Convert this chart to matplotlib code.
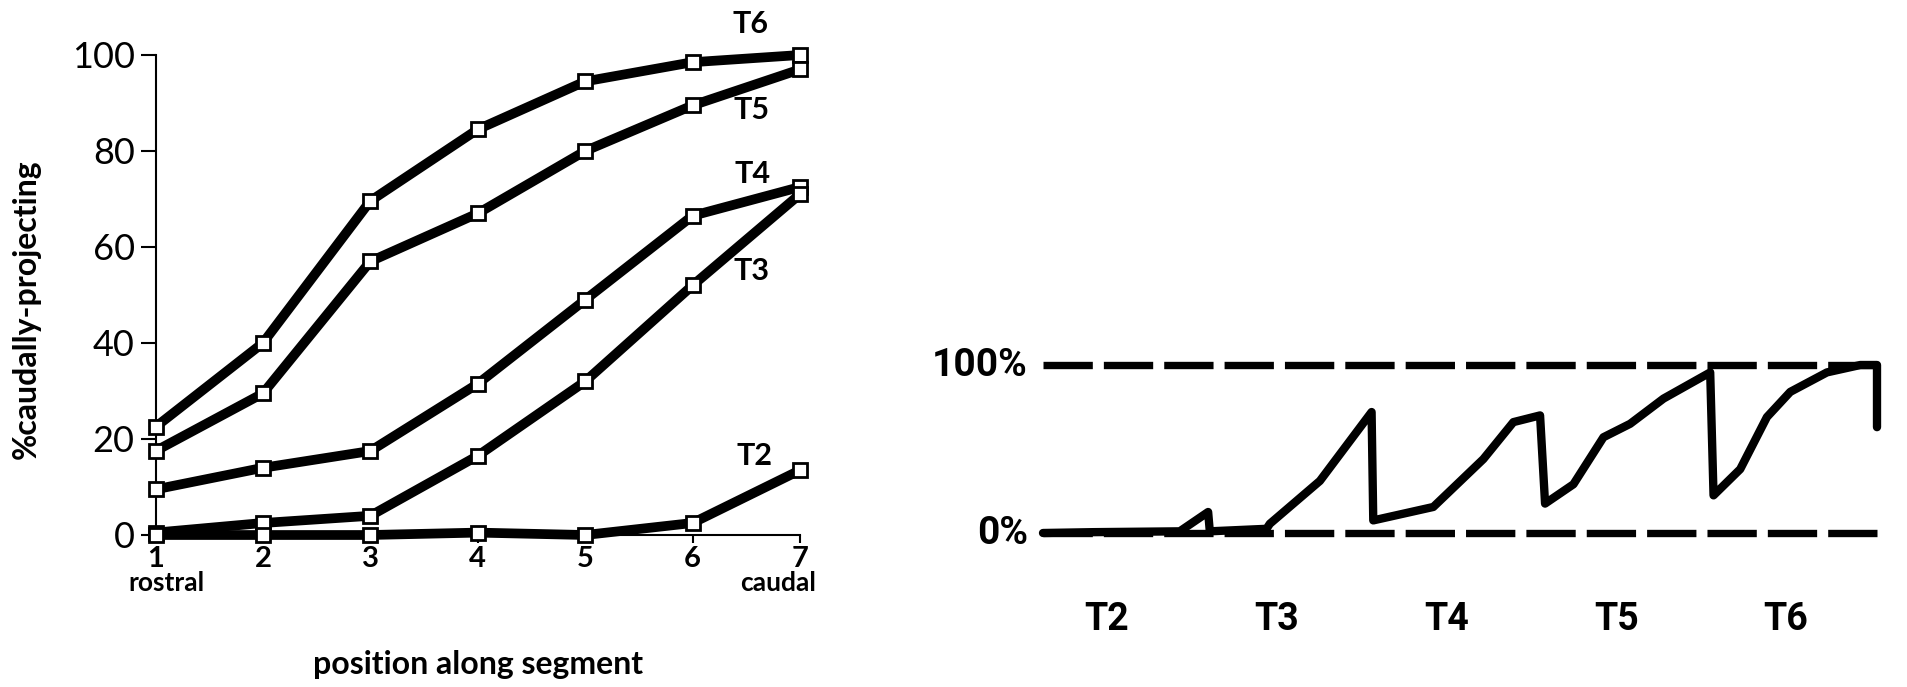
import matplotlib
matplotlib.use('Agg')
from matplotlib import pyplot as plt

# Left panel: % caudally-projecting vs position along segment
positions = [1, 2, 3, 4, 5, 6, 7]
t6 = [22.5, 40, 69.6, 84.5, 94.5, 98.5, 100]
t5 = [17.5, 29.5, 57, 67, 80, 89.5, 97]
t4 = [9.5, 14, 17.5, 31.5, 49, 66.5, 72.5]
t3 = [0.5, 2.5, 4, 16.5, 32, 52, 71]
t2 = [0, 0, 0, 0.5, 0, 2.5, 13.5]
series_names = ['T6', 'T5', 'T4', 'T3', 'T2']
label_x = [6.54, 6.55, 6.56, 6.55, 6.58]
label_y = [106.5, 88.5, 75.3, 55.1, 16.5]

# Right panel: sawtooth summary across segments T2..T6
saw_u = [0, 0.30, 0.82, 0.99, 1.0, 1.34, 1.36, 1.66, 1.97, 1.98, 2.34, 2.44,
         2.64, 2.82, 2.98, 3.01, 3.18, 3.36, 3.52, 3.72, 4.0, 4.02, 4.18,
         4.34, 4.48, 4.70, 4.90, 5.0, 5.0]
saw_pct = [0, 0.5, 1, 12.5, 1, 2.5, 5.5, 31, 72, 7.5, 15.5, 25,
           44, 66, 70, 17.5, 29, 57, 65, 80, 95.6, 22.4, 38,
           69, 84, 95.6, 100, 100, 63]
seg_names = ['T2', 'T3', 'T4', 'T5', 'T6']
seg_label_u = [0.38, 1.40, 2.42, 3.44, 4.45]

W, H = 1908, 687
fig = plt.figure(figsize=(W / 100, H / 100), dpi=100)

left_font = ['Lato', 'DejaVu Sans']
right_font = ['Roboto', 'DejaVu Sans']

# ---- left panel
ax = fig.add_axes([155.5 / W, 1 - 535 / H, (800 - 155.5) / W, 480 / H])
all_series = [t6, t5, t4, t3, t2]
for vals in all_series:
    ax.plot(positions, vals, color='black', lw=7, solid_joinstyle='miter',
            clip_on=False, zorder=2)
for vals in all_series:
    ax.plot(positions, vals, ls='none', marker='s', ms=10, mfc='white',
            mec='black', mew=2, clip_on=False, zorder=3)
for name, lx, ly in zip(series_names, label_x, label_y):
    ax.text(lx, ly, name, ha='center', va='center', fontsize=22,
            fontweight='bold', family=left_font)

ax.set_xlim(1, 7)
ax.set_ylim(0, 100)
ax.spines['top'].set_visible(False)
ax.spines['right'].set_visible(False)
for s in ['left', 'bottom']:
    ax.spines[s].set_linewidth(1.5)
ax.set_yticks([0, 20, 40, 60, 80, 100])
ax.set_xticks(positions)
ax.tick_params(axis='y', length=11, width=1.5, pad=4, labelsize=26)
ax.tick_params(axis='x', length=6, width=1.5, pad=2, labelsize=21)
for lab in ax.get_yticklabels():
    lab.set_family(left_font)
for lab in ax.get_xticklabels():
    lab.set_family(left_font)
    lab.set_fontweight('bold')

xt = ax.get_xaxis_transform()
ax.text(1.1, -0.1, 'rostral', transform=xt, ha='center', va='center',
        fontsize=19, fontweight='bold', family=left_font)
ax.text(6.8, -0.1, 'caudal', transform=xt, ha='center', va='center',
        fontsize=19, fontweight='bold', family=left_font)
ax.text(4.0, -0.27, 'position along segment', transform=xt, ha='center',
        va='center', fontsize=23, fontweight='bold', family=left_font)
ax.text(-0.2, 0.47, '%caudally-projecting', transform=ax.transAxes,
        rotation=90, ha='center', va='center', fontsize=23,
        fontweight='bold', family=left_font)

# ---- right panel
ax2 = fig.add_axes([1043 / W, 1 - 533 / H, (1877 - 1043) / W, (533 - 365) / H])
ax2.set_xlim(0, 5)
ax2.set_ylim(0, 100)
ax2.axis('off')
for level in [100, 0]:
    ax2.plot([0, 5], [level, level], color='black', lw=5.3,
             dashes=(6.7, 1.5), clip_on=False)
ax2.plot(saw_u, saw_pct, color='black', lw=6, solid_joinstyle='round',
         solid_capstyle='round', clip_on=False)
ax2.text(-0.09, 100, '100%', ha='right', va='center', fontsize=28,
         fontweight='bold', family=right_font)
ax2.text(-0.09, 0, '0%', ha='right', va='center', fontsize=28,
         fontweight='bold', family=right_font)
for name, u in zip(seg_names, seg_label_u):
    ax2.text(u, -51.6, name, ha='center', va='center', fontsize=27,
             fontweight='bold', family=right_font)

fig.savefig('out.png', dpi=100, facecolor='white')
